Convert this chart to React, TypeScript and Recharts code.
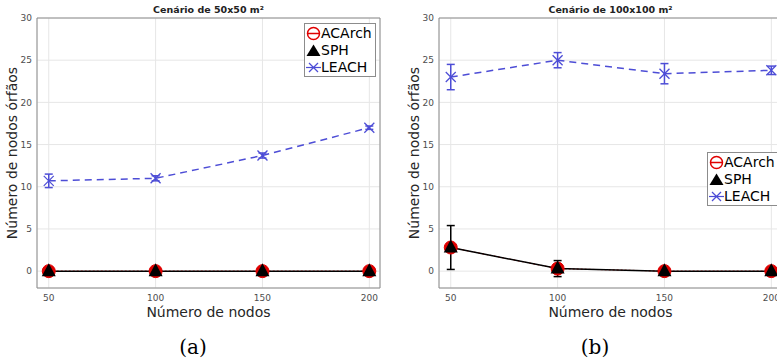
import React from "react";
import {
  ComposedChart,
  Line,
  XAxis,
  YAxis,
  CartesianGrid,
  ErrorBar,
  ReferenceArea,
} from "recharts";

// number of nodes on the x axis
const nodes = [50, 100, 150, 200];
const xTicks = [50, 100, 150, 200];
const yTicks = [0, 5, 10, 15, 20, 25, 30];

// (a) 50x50 m² scenario
const acarchA = [0, 0, 0, 0];
const sphA = [0, 0, 0, 0];
const sphErrA = [0, 0, 0, 0];
const leachA = [10.7, 11.0, 13.7, 17.0];
const leachErrA = [0.8, 0.3, 0.3, 0.2];

// (b) 100x100 m² scenario
const acarchB = [2.8, 0.3, 0, 0];
const sphB = [2.8, 0.3, 0, 0];
const sphErrB = [2.6, 0.95, 0, 0];
const leachB = [23.0, 25.0, 23.4, 23.8];
const leachErrB = [1.5, 0.9, 1.2, 0.5];

const RED = "#e00000";
const BLUE = "#4d4dd6";
const AXIS = "#8c8c8c";
const FONT = "'DejaVu Sans', sans-serif";

const legendItems = [
  { name: "ACArch", kind: "circle" },
  { name: "SPH", kind: "triangle" },
  { name: "LEACH", kind: "cross" },
];

function buildRows(acarch: number[], sph: number[], sphErr: number[], leach: number[], leachErr: number[]) {
  return nodes.map((n, i) => ({
    n,
    acarch: acarch[i],
    sph: sph[i],
    sphErr: sphErr[i],
    leach: leach[i],
    leachErr: leachErr[i],
  }));
}

const RedCircle = (p: any) => (
  <circle key={`c-${p.index}`} cx={p.cx} cy={p.cy} r={6.5} fill={RED} stroke={RED} strokeWidth={1} />
);

const BlackTri = (p: any) => (
  <polygon
    key={`t-${p.index}`}
    points={`${p.cx},${p.cy - 8} ${p.cx - 7},${p.cy + 5} ${p.cx + 7},${p.cy + 5}`}
    fill="#000"
  />
);

const BlueX = (p: any) => (
  <g key={`x-${p.index}`} stroke={BLUE} strokeWidth={1.3}>
    <line x1={p.cx - 5} y1={p.cy - 5} x2={p.cx + 5} y2={p.cy + 5} />
    <line x1={p.cx - 5} y1={p.cy + 5} x2={p.cx + 5} y2={p.cy - 5} />
  </g>
);

function LegendMarker({ kind }: { kind: string }) {
  return (
    <svg width={15} height={15} style={{ display: "block", flex: "none" }}>
      {kind === "circle" && (
        <g stroke={RED} strokeWidth={1.5} fill="none">
          <circle cx={7.5} cy={7.5} r={6} />
          <line x1={1} y1={7.5} x2={14} y2={7.5} />
        </g>
      )}
      {kind === "triangle" && <polygon points="7.5,1.5 0.5,13 14.5,13" fill="#000" />}
      {kind === "cross" && (
        <g stroke={BLUE} strokeWidth={1.2}>
          <line x1={0} y1={7.5} x2={15} y2={7.5} />
          <line x1={3} y1={3} x2={12} y2={12} />
          <line x1={3} y1={12} x2={12} y2={3} />
        </g>
      )}
    </svg>
  );
}

function LegendBox({ left, top }: { left: number; top: number }) {
  return (
    <div
      style={{
        position: "absolute",
        left,
        top,
        width: 72,
        height: 54,
        boxSizing: "border-box",
        background: "#fff",
        border: `1px solid ${AXIS}`,
        padding: "1px 0 0 1px",
        fontFamily: FONT,
        fontSize: 14,
        lineHeight: "17px",
        color: "#000",
        whiteSpace: "nowrap",
      }}
    >
      {legendItems.map((it) => (
        <div key={it.name} style={{ display: "flex", alignItems: "center", height: 17 }}>
          <LegendMarker kind={it.kind} />
          <span>{it.name}</span>
        </div>
      ))}
    </div>
  );
}

interface PanelProps {
  rows: any[];
  left: number;
  width: number;
  yAxisWidth: number;
  yLabelDx: number;
  title: string;
  legendLeft: number;
  legendTop: number;
  letter: string;
  letterX: number;
}

function Panel({ rows, left, width, yAxisWidth, yLabelDx, title, legendLeft, legendTop, letter, letterX }: PanelProps) {
  const plotLeft = yAxisWidth;
  const plotRight = width - 10;
  return (
    <div style={{ position: "absolute", left, top: 0, width, height: 359 }}>
      <div
        style={{
          position: "absolute",
          left: plotLeft,
          width: plotRight - plotLeft,
          top: 4,
          textAlign: "center",
          fontFamily: FONT,
          fontWeight: "bold",
          fontSize: 9.5,
          lineHeight: "12px",
          color: "#222",
        }}
      >
        {title}
      </div>
      <ComposedChart width={width} height={359} data={rows} margin={{ top: 18, right: 10, bottom: 0, left: 0 }}>
        <CartesianGrid stroke="#e6e6e6" strokeWidth={1} />
        <XAxis
          dataKey="n"
          type="number"
          domain={[44.5, 205]}
          ticks={xTicks}
          allowDataOverflow
          height={71}
          axisLine={false}
          tickLine={false}
          tickSize={5}
          tick={{ fontSize: 9, fill: "#4d4d4d", fontFamily: FONT }}
          label={{
            value: "Número de nodos",
            position: "insideTop",
            offset: 19,
            style: { fontSize: 14, fill: "#262626", fontFamily: FONT },
          }}
        />
        <YAxis
          type="number"
          domain={[-2, 30]}
          ticks={yTicks}
          allowDataOverflow
          width={yAxisWidth}
          axisLine={false}
          tickLine={false}
          tickSize={3}
          tickMargin={2}
          tick={{ fontSize: 9, fill: "#4d4d4d", fontFamily: FONT }}
          label={{
            value: "Número de nodos órfãos",
            angle: -90,
            position: "center",
            dx: yLabelDx,
            style: { fontSize: 14, fill: "#262626", fontFamily: FONT, textAnchor: "middle" },
          }}
        />
        <ReferenceArea x1={44.5} x2={205} y1={-2} y2={30} fill="none" stroke={AXIS} strokeWidth={1} ifOverflow="visible" />
        <Line
          dataKey="acarch"
          stroke={RED}
          strokeWidth={1}
          strokeDasharray="2 2"
          dot={RedCircle}
          activeDot={false}
          isAnimationActive={false}
        />
        <Line dataKey="sph" stroke="#000" strokeWidth={1.5} dot={BlackTri} activeDot={false} isAnimationActive={false}>
          <ErrorBar dataKey="sphErr" direction="y" stroke="#000" strokeWidth={1.5} width={4} isAnimationActive={false} />
        </Line>
        <Line
          dataKey="leach"
          stroke={BLUE}
          strokeWidth={1.5}
          strokeDasharray="7 5"
          dot={BlueX}
          activeDot={false}
          isAnimationActive={false}
        >
          <ErrorBar dataKey="leachErr" direction="y" stroke={BLUE} strokeWidth={1.5} width={4} isAnimationActive={false} />
        </Line>
      </ComposedChart>
      <LegendBox left={legendLeft} top={legendTop} />
      <div
        style={{
          position: "absolute",
          left: letterX - 40,
          width: 80,
          top: 334,
          textAlign: "center",
          fontFamily: "'DejaVu Serif', serif",
          fontSize: 20,
          lineHeight: "26px",
          color: "#000",
        }}
      >
        {letter}
      </div>
    </div>
  );
}

export default function App() {
  const rowsA = buildRows(acarchA, sphA, sphErrA, leachA, leachErrA);
  const rowsB = buildRows(acarchB, sphB, sphErrB, leachB, leachErrB);
  return (
    <div
      style={{
        position: "absolute",
        left: 0,
        top: 0,
        width: 777,
        height: 359,
        overflow: "hidden",
        background: "#fff",
      }}
    >
      <Panel
        rows={rowsA}
        left={0}
        width={390}
        yAxisWidth={37}
        yLabelDx={-6}
        title="Cenário de 50x50 m²"
        legendLeft={304}
        legendTop={23}
        letter="(a)"
        letterX={193}
      />
      <Panel
        rows={rowsB}
        left={390}
        width={402}
        yAxisWidth={49}
        yLabelDx={0}
        title="Cenário de 100x100 m²"
        legendLeft={317}
        legendTop={152}
        letter="(b)"
        letterX={205}
      />
    </div>
  );
}
